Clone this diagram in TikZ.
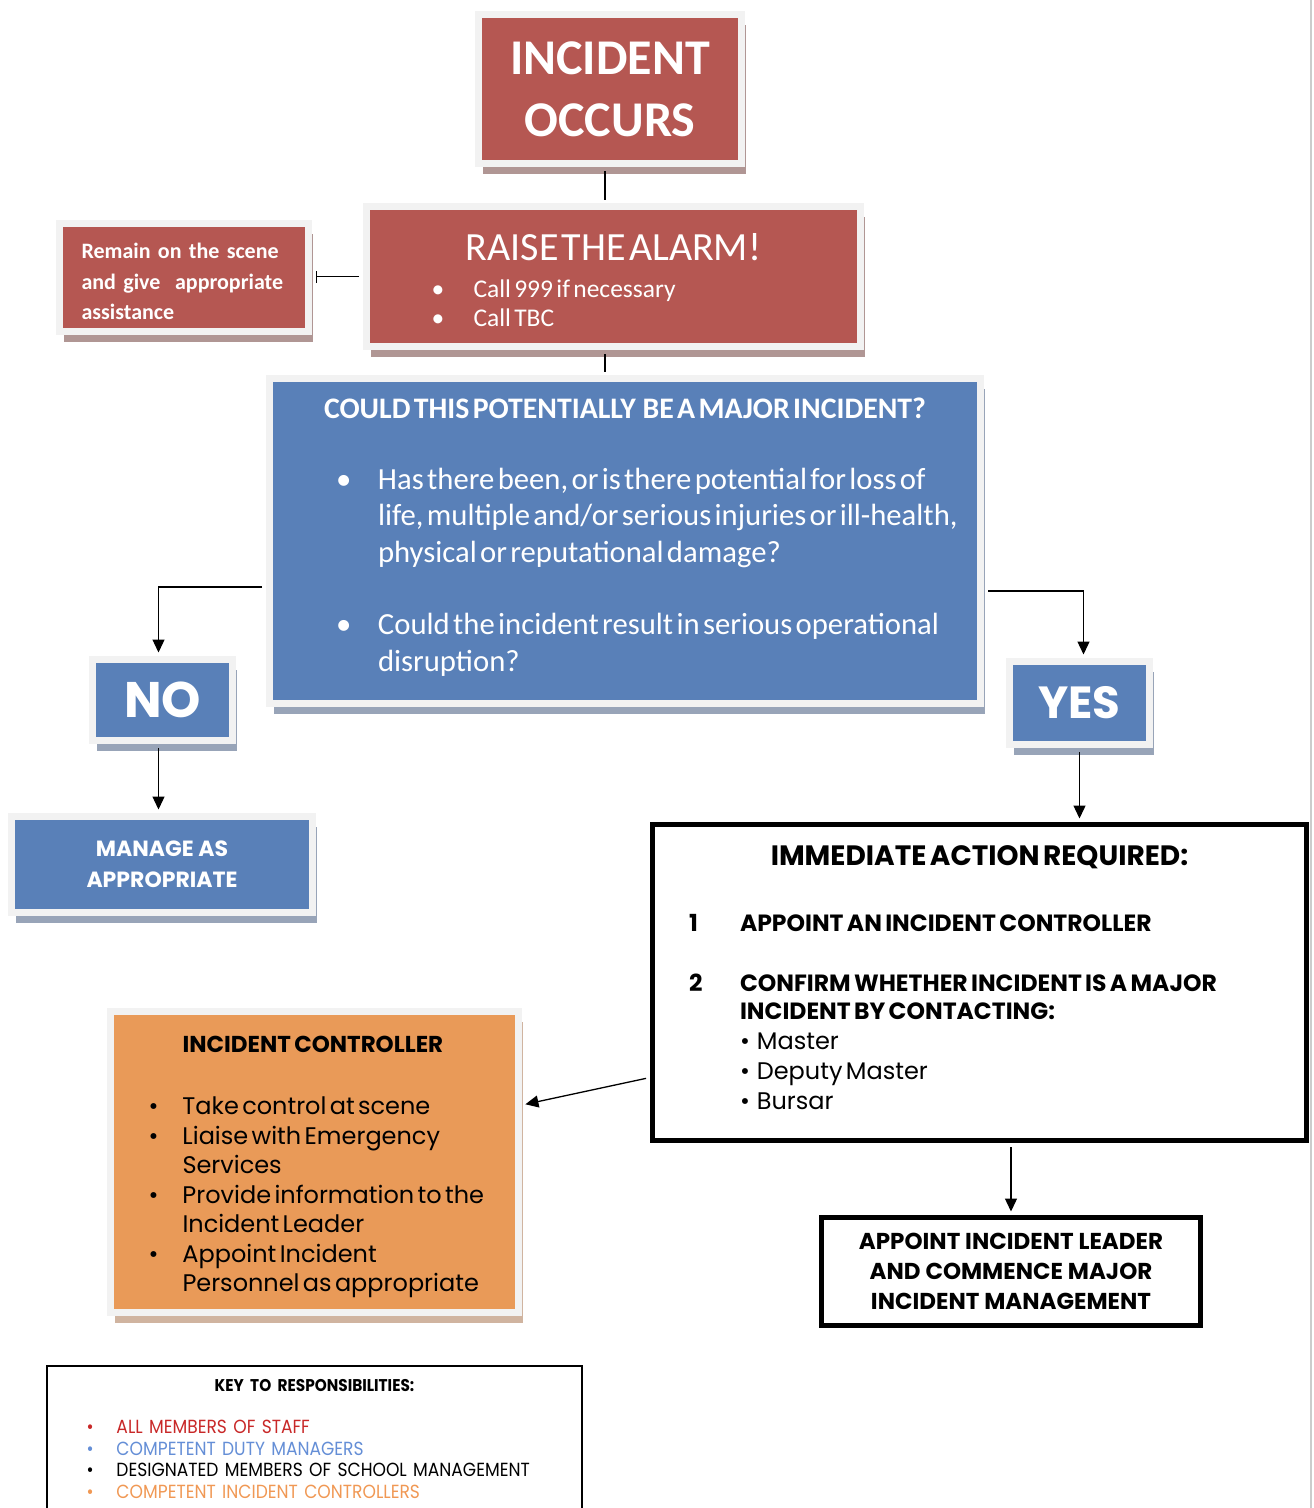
\documentclass[tikz,border=0pt]{standalone}
\usepackage{fontspec}
\setmainfont{Carlito}
\newfontfamily\gothic{Poppins}
\newfontfamily\keyfont{Poppins}[FakeStretch=0.9]
\usetikzlibrary{positioning, arrows.meta, shadows}

\definecolor{alarmred}{RGB}{181,87,82}
\definecolor{redshade}{RGB}{176,150,148}
\definecolor{majorblue}{RGB}{89,128,184}
\definecolor{blueshade}{RGB}{152,164,184}
\definecolor{ctrlorange}{RGB}{233,154,88}
\definecolor{orangeshade}{RGB}{208,180,160}
\definecolor{framegray}{RGB}{242,242,242}
\definecolor{keyred}{RGB}{200,40,40}
\definecolor{keyblue}{RGB}{100,142,214}
\definecolor{keyorange}{RGB}{240,152,84}

\newcommand{\fs}[2]{\fontsize{#1}{#2}\selectfont}
% one bullet line: bullet offset, text indent, text (break lines with \newline)
\newcommand{\blt}[3]{\par\noindent\hangindent=#2\hangafter=1\makebox[#2][l]{\hspace*{#1}\textbullet}#3\par}
% centred heading line
\newcommand{\headline}[1]{{\leavevmode\hfill#1\hfill\null\par}}
% extra (or less) room under the text of a box
\newcommand{\trail}[1]{\par\nointerlineskip\vspace{#1}\noindent\mbox{}}

\tikzset{
x=1pt, y=-1pt, % pixel grid, y runs down the page
>={Triangle[length=13pt,width=12pt]}, % filled heads
framed/.style={draw=framegray, line width=7pt, inner sep=0pt, text=white}, % boxes with a light frame
redbox/.style={framed, fill=alarmred, drop shadow={shadow xshift=4pt, shadow yshift=-10pt, fill=redshade, opacity=1}},
bluebox/.style={framed, fill=majorblue, drop shadow={shadow xshift=4pt, shadow yshift=-10pt, fill=blueshade, opacity=1}},
orangebox/.style={framed, fill=ctrlorange, text=black, drop shadow={shadow xshift=4pt, shadow yshift=-10pt, fill=orangeshade, opacity=1}},
blackbox/.style={draw=black, line width=5pt, inner sep=0pt, fill=white}, % thick black boxes
link/.style={line width=1.3pt, shorten <=4pt, shorten >=3.5pt}, % connectors
}

\begin{document}
\begin{tikzpicture}
\useasboundingbox (0,0) rectangle (1314,1508);
\clip (0,0) rectangle (1314,1508);

\node[redbox, minimum width=263pt, minimum height=149pt, align=center, font=\bfseries\fs{50}{62}] (occurs) at (610,89) {INCIDENT\\OCCURS};

\node[redbox, minimum width=494pt, minimum height=140pt, text width=440pt, align=left] (alarm) at (613.5,276.5)
  {\headline{\fs{40}{44}RAISE THE ALARM!}\vspace{8pt}\fs{25.5}{29}%
   \blt{38pt}{80pt}{Call 999 if necessary}\blt{38pt}{80pt}{Call TBC}\trail{-8pt}};

\node[redbox, minimum width=249pt, minimum height=108pt, text width=205pt, align=left, font=\bfseries\fs{22}{30.5}] (remain) at (184,277.5)
  {\mbox{Remain on the scene}\\\mbox{and give\ \ appropriate}\\assistance\trail{-8pt}};

\node[bluebox, minimum width=711pt, minimum height=325pt, text width=680pt, align=left] (question) at (625,541)
  {\headline{\bfseries\fs{29.8}{32}COULD THIS POTENTIALLY\ \ BE A MAJOR INCIDENT?}\vspace{34pt}\fs{30.7}{36.5}%
   \blt{51pt}{93pt}{\mbox{Has there been, or is there potential for loss of}\newline\mbox{life, multiple and/or serious injuries or ill-health,}\newline\mbox{physical or reputational damage?}}\vspace{36pt}%
   \blt{51pt}{93pt}{\mbox{Could the incident result in serious operational}\newline disruption?}\trail{8pt}};

\node[bluebox, minimum width=140pt, minimum height=81pt, font=\gothic\bfseries\fs{50}{50}] (no) at (162.5,700) {NO};
\node[bluebox, minimum width=140pt, minimum height=83pt, font=\gothic\bfseries\fs{45}{45}] (yes) at (1079.5,703) {YES};
\node[bluebox, minimum width=301pt, minimum height=96pt, align=center, font=\gothic\bfseries\fs{22}{31}] (manage) at (162,864.5) {MANAGE AS\\APPROPRIATE};

\node[blackbox, minimum width=654pt, minimum height=316pt, text width=581pt, align=left, font=\gothic] (immediate) at (979.5,982.5)
  {\headline{\bfseries\fs{28}{34}IMMEDIATE ACTION REQUIRED:}\vspace{38pt}\bfseries\fs{23.5}{28}%
   \noindent\makebox[51pt][l]{1}APPOINT AN INCIDENT CONTROLLER\par\vspace{32pt}%
   \noindent\hangindent=51pt\hangafter=1\makebox[51pt][l]{2}CONFIRM WHETHER INCIDENT IS A MAJOR\newline INCIDENT BY CONTACTING:\par
   \mdseries\fs{24}{30}%
   \noindent\hspace*{51pt}\textbullet\hspace{7pt}Master\par
   \noindent\hspace*{51pt}\textbullet\hspace{7pt}Deputy Master\par
   \noindent\hspace*{51pt}\textbullet\hspace{7pt}Bursar\trail{10pt}};

\node[blackbox, minimum width=379pt, minimum height=108pt, align=center, font=\gothic\bfseries\fs{23}{30}] (appoint) at (1011,1271.5)
  {APPOINT INCIDENT LEADER\\AND COMMENCE MAJOR\\INCIDENT MANAGEMENT};

\node[orangebox, minimum width=408pt, minimum height=301pt, text width=360pt, align=left, font=\gothic] (controller) at (314.5,1162)
  {\noindent\hspace*{48pt}{\bfseries\fs{23}{26}INCIDENT CONTROLLER}\par\vspace{33pt}\fs{24}{29}%
   \blt{14pt}{48pt}{Take control at scene}\vspace{1pt}
   \blt{14pt}{48pt}{Liaise with Emergency\newline Services}\vspace{1pt}
   \blt{14pt}{48pt}{Provide information to the\newline Incident Leader}\vspace{1pt}
   \blt{14pt}{48pt}{Appoint Incident\newline Personnel as appropriate}\trail{-10pt}};

\node[draw, line width=1.5pt, anchor=north, minimum width=535pt, text width=480pt, inner xsep=27.5pt, inner ysep=14pt, align=left, font=\keyfont\fs{19}{21.7}] (key) at (314.5,1365)
  {\headline{\bfseries\fs{17}{20}KEY TO RESPONSIBILITIES:}\vspace{20pt}%
   {\color{keyred}\blt{12pt}{42pt}{ALL MEMBERS OF STAFF}}
   {\color{keyblue}\blt{12pt}{42pt}{COMPETENT DUTY MANAGERS}}
   \blt{12pt}{42pt}{DESIGNATED MEMBERS OF SCHOOL MANAGEMENT}
   {\color{keyorange}\blt{12pt}{42pt}{COMPETENT INCIDENT CONTROLLERS}}
   \trail{20pt}};

% connectors
\draw[link] ([xshift=-5pt]occurs.south) -- ([xshift=-5pt]occurs.south |- alarm.north);
\draw[link] ([xshift=-8.5pt]alarm.south) -- ([xshift=-8.5pt]alarm.south |- question.north);
\draw[link, -{Bar[width=12pt]}] (alarm.west) -- (alarm.west -| remain.east);
\draw[link, ->] ([yshift=-46pt]question.west) -| ([xshift=-4pt]no.north);
\draw[link, ->] ([yshift=-50pt]question.east) -| ([xshift=4pt]yes.north);
\draw[link, ->] ([xshift=-4pt]no.south) -- ([xshift=-4pt]no.south |- manage.north);
\draw[link, ->] (yes.south) -- (yes.south |- immediate.north);
\draw[link, ->] ([yshift=-95pt]immediate.west) -- ([yshift=57pt]controller.east);
\draw[link, ->] (appoint.north |- immediate.south) -- (appoint.north);

% page edge
\draw[gray!40, line width=1.5pt] (1311,0) -- (1311,1508);
\end{tikzpicture}
\end{document}
